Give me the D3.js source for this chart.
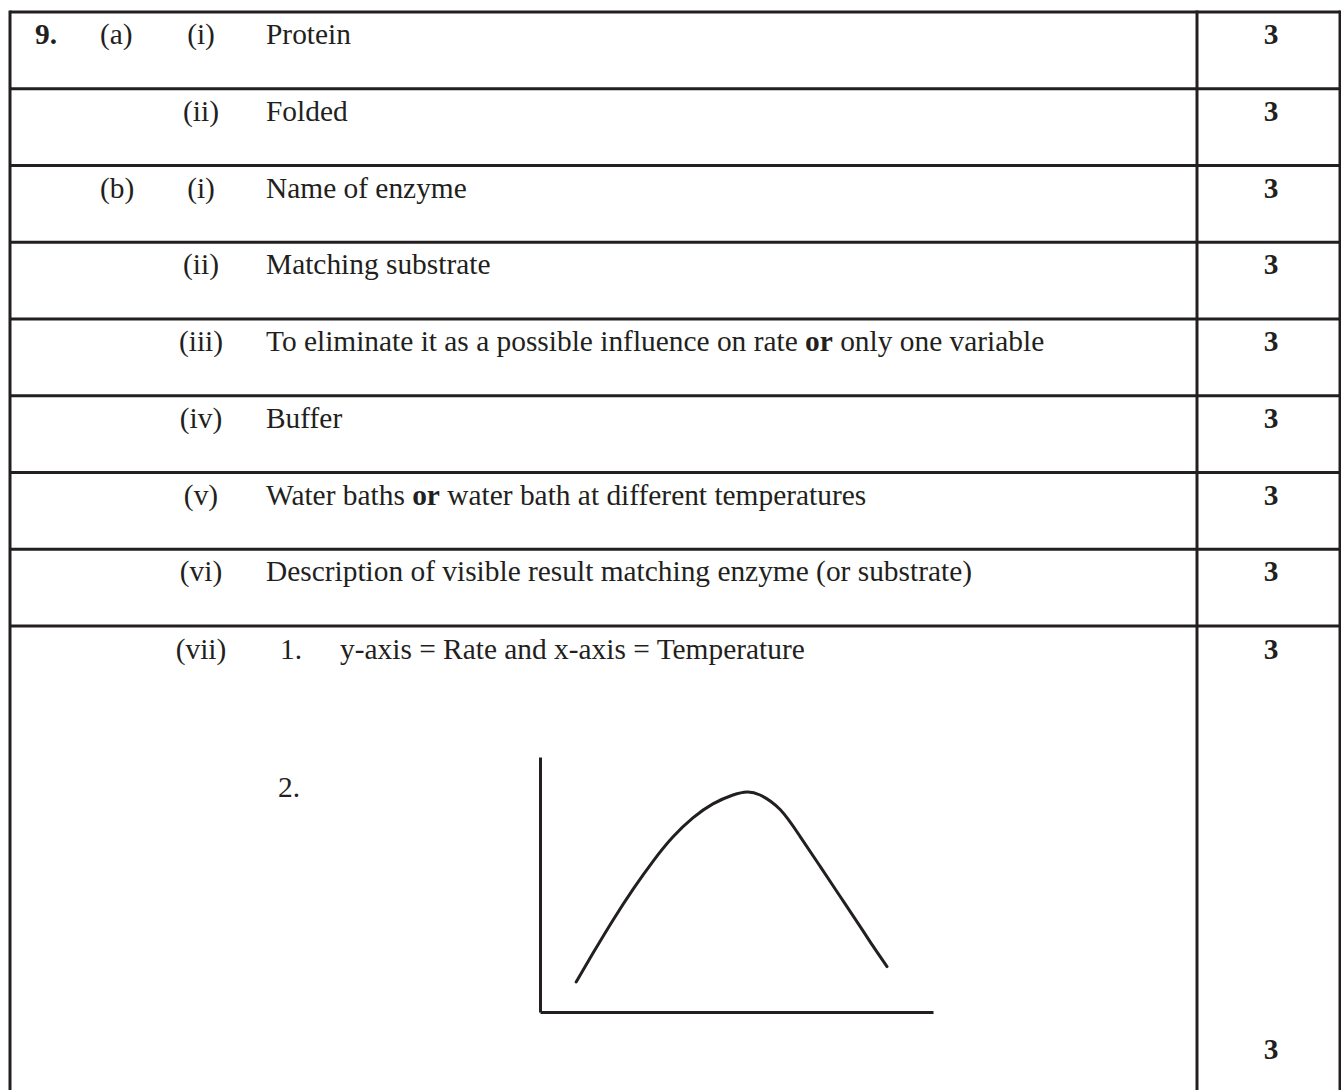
<!DOCTYPE html>
<html>
<head>
<meta charset="utf-8">
<script src="https://cdn.jsdelivr.net/npm/d3@7"></script>
<style>
  body{margin:0;background:#fff;}
  text{font-family:"Liberation Serif","Times New Roman",serif;fill:#231f20;}
</style>
</head>
<body>
<div id="chart"></div>
<script>
/* marking scheme table + rate/temperature sketch */

// table rows
var qNums = ["9.","","","","","","","",""];
var parts = ["(a)","","(b)","","","","","",""];
var subs = ["(i)","(ii)","(i)","(ii)","(iii)","(iv)","(v)","(vi)","(vii)"];
// answer pieces: [text, bold]
var answers = [
  [["Protein",0]],
  [["Folded",0]],
  [["Name of enzyme",0]],
  [["Matching substrate",0]],
  [["To eliminate it as a possible influence on rate ",0],["or",1],[" only one variable",0]],
  [["Buffer",0]],
  [["Water baths ",0],["or",1],[" water bath at different temperatures",0]],
  [["Description of visible result matching enzyme (or substrate)",0]],
  [["y-axis = Rate and x-axis = Temperature",0]]
];
var marks = ["3","3","3","3","3","3","3","3","3"];
var extraMark = "3"; // second mark in row (vii)
var stepLabels = ["1.","2."];

// sketch curve (temperature vs rate, arbitrary units 0-100)
var temps = [9.2,13.5,18.6,23.7,28.8,33.8,38.9,44.0,49.1,52.7,56.0,61.1,66.2,71.2,76.3,81.4,84.7,88.3];
var rates = [11.8,23.1,36.1,48.2,59.2,68.6,76.1,81.6,85.1,86.3,85.1,79.4,68.8,57.3,45.5,33.7,25.9,17.8];

var W = 1341, H = 1090;
var tblLeft = 10, tblRight = 1340, tblTop = 12, divX = 1197;
var rowH = 76.75;
var ink = "#231f20";

var svg = d3.select("#chart").append("svg")
  .attr("width",W).attr("height",H);

var rowY = d3.scaleLinear().domain([0,1]).range([tblTop, tblTop+rowH]);

// horizontal rules
var ruleIdx = d3.range(0, subs.length);
svg.append("g").selectAll("line")
  .data(ruleIdx).enter().append("line")
  .attr("x1",tblLeft).attr("x2",tblRight)
  .attr("y1",function(d){return rowY(d);})
  .attr("y2",function(d){return rowY(d);})
  .attr("stroke",ink).attr("stroke-width",3);

// vertical rules
svg.append("g").selectAll("line")
  .data([tblLeft,divX,tblRight]).enter().append("line")
  .attr("x1",function(d){return d;}).attr("x2",function(d){return d;})
  .attr("y1",tblTop-1.5).attr("y2",H)
  .attr("stroke",ink).attr("stroke-width",3);

var fs = 29.4;
var base = 32; // baseline offset inside row

var rows = svg.append("g").selectAll("g")
  .data(subs).enter().append("g")
  .attr("transform",function(d,i){return "translate(0,"+(rowY(i)+base+(i==8?1:0))+")";});

rows.append("text").attr("x",35).attr("font-size",fs).attr("font-weight","bold")
  .text(function(d,i){return qNums[i];});
rows.append("text").attr("x",100).attr("font-size",fs)
  .text(function(d,i){return parts[i];});
rows.append("text").attr("x",201).attr("font-size",fs).attr("text-anchor","middle")
  .text(function(d){return d;});
rows.append("text").attr("x",1271).attr("font-size",fs).attr("font-weight","bold")
  .attr("text-anchor","middle")
  .text(function(d,i){return marks[i];});

rows.each(function(d,i){
  var g = d3.select(this);
  var x0 = 266;
  if(i==8){
    g.append("text").attr("x",280).attr("font-size",fs).text(stepLabels[0]);
    x0 = 340;
  }
  var t = g.append("text").attr("x",x0).attr("font-size",fs).attr("xml:space","preserve");
  t.selectAll("tspan").data(answers[i]).enter().append("tspan")
    .attr("font-weight",function(p){return p[1]?"bold":"normal";})
    .text(function(p){return p[0];});
});

// second part of (vii)
svg.append("text").attr("x",278).attr("y",797).attr("font-size",fs).text(stepLabels[1]);
svg.append("text").attr("x",1271).attr("y",1059).attr("font-size",fs)
  .attr("font-weight","bold").attr("text-anchor","middle").text(extraMark);

// sketch graph
var gx = d3.scaleLinear().domain([0,100]).range([540,933]);
var gy = d3.scaleLinear().domain([0,100]).range([1012,757]);

var sketch = svg.append("g");
sketch.append("g")
  .attr("transform","translate(0,"+gy(0)+")")
  .call(d3.axisBottom(gx).tickValues([]).tickSizeOuter(0))
  .select(".domain").attr("stroke",ink).attr("stroke-width",3);
sketch.append("g")
  .attr("transform","translate("+gx(0)+",0)")
  .call(d3.axisLeft(gy).tickValues([]).tickSizeOuter(0))
  .select(".domain").attr("stroke",ink).attr("stroke-width",3);

var pts = temps.map(function(t,i){return [t,rates[i]];});
sketch.append("path")
  .datum(pts)
  .attr("fill","none").attr("stroke",ink).attr("stroke-width",3)
  .attr("stroke-linecap","round")
  .attr("d",d3.line().x(function(d){return gx(d[0]);}).y(function(d){return gy(d[1]);})
    .curve(d3.curveNatural));
</script>
</body>
</html>
